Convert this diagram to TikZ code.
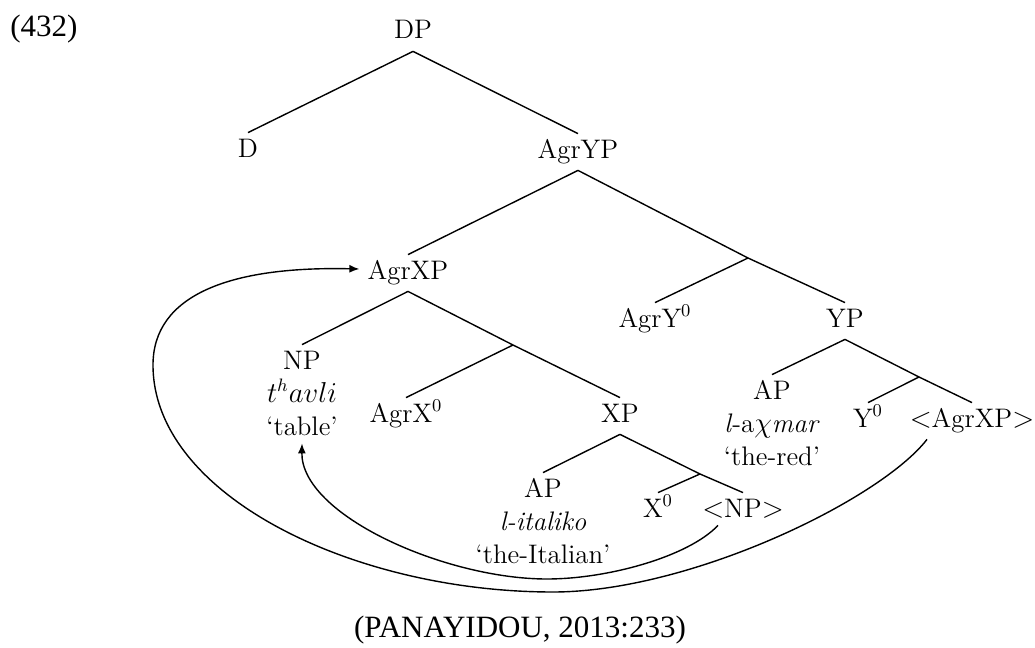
\documentclass[tikz,border=0pt]{standalone}
\usepackage{fontspec}
\newfontfamily\capfont{Liberation Serif}
\newcommand\treefont{\fontsize{13.4}{16.5}\selectfont}
\usetikzlibrary{arrows.meta}
\begin{document}
\begin{tikzpicture}[x=0.5pt,y=-0.5pt,
  cat/.style={anchor=base,inner sep=1pt,text height=11pt,text depth=5pt,font=\treefont},
  gloss/.style={anchor=base,inner sep=1pt,text height=11pt,text depth=3pt,font=\treefont},
  branch/.style={line width=0.7pt},
  move/.style={line width=0.7pt,-{Latex[length=5pt,width=4pt]}},
  ref/.style={font=\capfont\fontsize{15.5}{18}\selectfont,inner sep=0pt}
]
\useasboundingbox (0,0) rectangle (1035,648);

% example number
\node[ref,anchor=base west] (exnum) at (10,37) {(432)};

% tree nodes
\node[cat] (dp) at (413,39) {DP};
\node[cat] (d) at (248,157) {D};
\node[cat] (agryp) at (578,158) {AgrYP};
\node[cat] (agrxp) at (408,279) {AgrXP};
\coordinate (agrybar) at (748,258);
\node[cat] (agry0) at (655,327) {AgrY$^0$};
\node[cat] (yp) at (845,327) {YP};
\node[cat] (np) at (302,369) {NP};
\node[gloss] (npw) at (302,402) {$t^havli$};
\node[gloss] (npg) at (302,435) {`table'};
\coordinate (agrxbar) at (513,345);
\node[cat] (agrx0) at (406,422) {AgrX$^0$};
\node[cat] (xp) at (620,422) {XP};
\node[cat] (apred) at (772,399) {AP};
\node[gloss] (apredw) at (772,432) {\textit{l}-a$\chi$\textit{mar}};
\node[gloss] (apredg) at (772,465) {`the-red'};
\coordinate (ybar) at (919,377);
\node[cat] (y0) at (868,427) {Y$^0$};
\node[cat] (agrxpt) at (972,427) {$<$AgrXP$>$};
\node[cat] (apit) at (543,497) {AP};
\node[gloss] (apitw) at (543,530) {\textit{l-italiko}};
\node[gloss] (apitg) at (543,563) {`the-Italian'};
\coordinate (xbar) at (700,474);
\node[cat] (x0) at (658,517) {X$^0$};
\node[cat] (npt) at (743,517) {$<$NP$>$};

% branches
\draw[branch] (dp.south) -- (d.north);
\draw[branch] (dp.south) -- (agryp.north);
\draw[branch] (agryp.south) -- (agrxp.north);
\draw[branch] (agryp.south) -- (agrybar);
\draw[branch] (agrybar) -- (agry0.north);
\draw[branch] (agrybar) -- (yp.north);
\draw[branch] (agrxp.south) -- (np.north);
\draw[branch] (agrxp.south) -- (agrxbar);
\draw[branch] (agrxbar) -- (agrx0.north);
\draw[branch] (agrxbar) -- (xp.north);
\draw[branch] (xp.south) -- (apit.north);
\draw[branch] (xp.south) -- (xbar);
\draw[branch] (xbar) -- (x0.north);
\draw[branch] (xbar) -- (npt.north);
\draw[branch] (yp.south) -- (apred.north);
\draw[branch] (yp.south) -- (ybar);
\draw[branch] (ybar) -- (y0.north);
\draw[branch] (ybar) -- (agrxpt.north);

% movement arrows
\draw[move] ([xshift=-12.5pt,yshift=2pt]npt.south)
  .. controls (688,557) and (607,579) .. (547,579)
  .. controls (445,579) and (301,515) .. (npg.south);
\draw[move] ([xshift=-22.5pt]agrxpt.south)
  .. controls (880,500) and (690,592) .. (553,592)
  .. controls (353,592) and (153,495) .. (153,365)
  .. controls (153,295) and (230,266) .. ([xshift=-3pt,yshift=2pt]agrxp.west);

% source
\node[ref,anchor=base] (src) at (520,637) {(PANAYIDOU, 2013:233)};
\end{tikzpicture}
\end{document}
